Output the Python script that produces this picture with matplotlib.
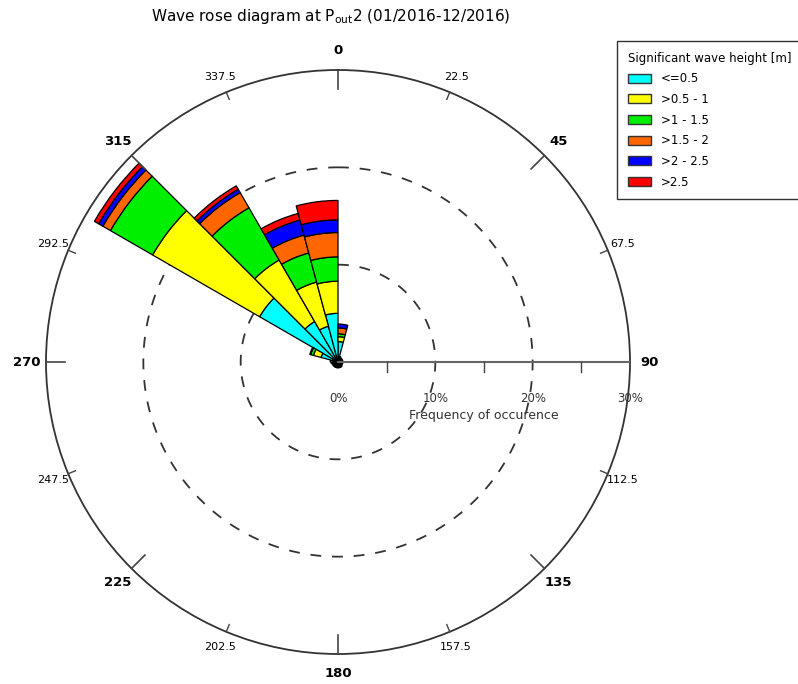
import numpy as np
import matplotlib
matplotlib.use('Agg')
import matplotlib.pyplot as plt
from matplotlib.patches import Patch

# direction bins (15 deg), centres in degrees
directions = np.arange(7.5, 360, 15)

classes = ['<=0.5', '>0.5 - 1', '>1 - 1.5', '>1.5 - 2', '>2 - 2.5', '>2.5']
colors = ['#00FFFF', '#FFFF00', '#00EE00', '#FF6600', '#0000FF', '#FF0000']

# frequency of occurence [%] per class, one value per direction bin
#          7.5  22.5 37.5 52.5 67.5 82.5 97.5 112.5 127.5 142.5 157.5 172.5
#        187.5 202.5 217.5 232.5 247.5 262.5 277.5 292.5 307.5 322.5 337.5 352.5
hs_05 = [2.1, 0.6, 0.5, 0.5, 0.5, 0.5, 0.5, 0.5, 0.5, 0.6, 0.6, 0.6,
         0.6, 0.6, 0.6, 0.6, 0.6, 0.7, 0.8, 1.8, 9.3, 4.8, 3.8, 5.0]
hs_1 = [0.5, 0, 0, 0, 0, 0, 0, 0, 0, 0, 0, 0,
        0, 0, 0, 0, 0, 0, 0, 0.8, 12.7, 7.3, 4.7, 3.3]
hs_15 = [0.3, 0, 0, 0, 0, 0, 0, 0, 0, 0, 0, 0,
         0, 0, 0, 0, 0, 0, 0, 0.3, 5.0, 6.2, 3.1, 2.5]
hs_2 = [0.6, 0, 0, 0, 0, 0, 0, 0, 0, 0, 0, 0,
        0, 0, 0, 0, 0, 0, 0, 0.1, 0.9, 1.8, 1.9, 2.5]
hs_25 = [0.4, 0, 0, 0, 0, 0, 0, 0, 0, 0, 0, 0,
         0, 0, 0, 0, 0, 0, 0, 0, 0.5, 0.4, 1.6, 1.3]
hs_gt = [0, 0, 0, 0, 0, 0, 0, 0, 0, 0, 0, 0,
         0, 0, 0, 0, 0, 0, 0, 0, 0.5, 0.4, 0.7, 2.0]
series = [hs_05, hs_1, hs_15, hs_2, hs_25, hs_gt]

rmax = 30
major_dirs = [0, 45, 90, 135, 180, 225, 270, 315]
minor_dirs = [22.5, 67.5, 112.5, 157.5, 202.5, 247.5, 292.5, 337.5]
rings = [10, 20]
r_labels = ['0%', '10%', '20%', '30%']

fig = plt.figure(figsize=(7.98, 6.84), dpi=100)
rect = [46/798, 30/684, 584/798, 584/684]
ax = fig.add_axes(rect, projection='polar')
ax.set_theta_zero_location('N')
ax.set_theta_direction(-1)
ax.set_ylim(0, rmax)
ax.set_xticks([])
ax.set_yticks([])
ax.grid(False)
ax.spines['polar'].set_color('#333333')
ax.spines['polar'].set_linewidth(1.3)

# dashed rings
t = np.linspace(0, 2*np.pi, 400)
for r in rings:
    ax.plot(t, np.full_like(t, r), color='#333333', lw=1.3, ls=(0, (6, 6)), zorder=1)

# stacked bars
theta = np.deg2rad(directions)
width = np.deg2rad(15)
bottom = np.zeros(len(directions))
for vals, c in zip(series, colors):
    vals = np.array(vals, dtype=float)
    m = vals > 0
    ax.bar(theta[m], vals[m], width=width, bottom=bottom[m], color=c,
           edgecolor='black', linewidth=0.9, align='center', zorder=3)
    bottom += vals

# overlay cartesian axes for ticks and labels
ax2 = fig.add_axes(rect)
ax2.set_xlim(-rmax, rmax)
ax2.set_ylim(-rmax, rmax)
ax2.axis('off')
ax2.patch.set_alpha(0)

def xy(deg, r):
    a = np.deg2rad(deg)
    return r*np.sin(a), r*np.cos(a)

for d in major_dirs:
    x0, y0 = xy(d, rmax)
    x1, y1 = xy(d, rmax - 1.95)
    ax2.plot([x0, x1], [y0, y1], color='#444444', lw=1.2)
    xt, yt = xy(d, 32)
    ax2.text(xt, yt, str(d), ha='center', va='center', fontsize=9.5,
             fontweight='bold')
for d in minor_dirs:
    x0, y0 = xy(d, rmax)
    x1, y1 = xy(d, rmax - 0.8)
    ax2.plot([x0, x1], [y0, y1], color='#444444', lw=1.0)
    xt, yt = xy(d, 31.7)
    ax2.text(xt, yt, str(d), ha='center', va='center', fontsize=8)

# radial axis along 90 deg
ax2.plot([0, rmax], [0, 0], color='#666666', lw=1.5, zorder=2)
for r in [5, 15, 25]:
    ax2.plot([r, r], [0, -1.0], color='#444444', lw=1.0)
for i, lab in enumerate(r_labels):
    ax2.text(10*i, -3.7, lab, ha='center', va='center', fontsize=8.5,
             color='#333333')
ax2.text(15, -5.5, 'Frequency of occurence', ha='center', va='center',
         fontsize=9, color='#333333')

fig.text(331/798, 1 - 17/684, r'Wave rose diagram at P$_{\mathrm{out}}$2 (01/2016-12/2016)',
         ha='center', va='center', fontsize=11)

handles = [Patch(facecolor=c, edgecolor='#333333', label=l) for c, l in zip(colors, classes)]
leg = fig.legend(handles=handles, title='Significant wave height [m]',
                 loc='upper left', bbox_to_anchor=(617/798, 1 - 41/684),
                 fontsize=8.5, title_fontsize=8.5, frameon=True, fancybox=False,
                 edgecolor='black', handlelength=2.0, handleheight=0.8,
                 labelspacing=0.65, borderpad=0.9, borderaxespad=0)
leg._legend_box.align = 'left'
leg.get_frame().set_linewidth(1.0)

fig.savefig('out.png', dpi=100)
